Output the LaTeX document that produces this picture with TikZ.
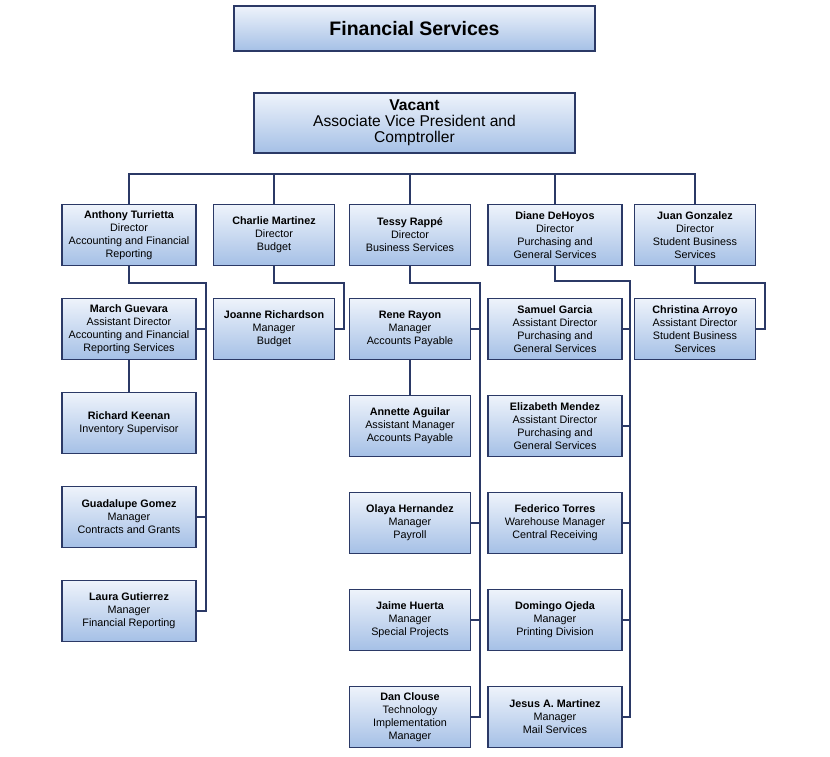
\documentclass[tikz,border=0pt]{standalone}
\usepackage{fontspec}
\setmainfont{Liberation Sans}
\usetikzlibrary{calc}
\definecolor{navy}{HTML}{2B3966}
\definecolor{boxtop}{HTML}{EEF3FB}
\definecolor{boxbot}{HTML}{A5C0E6}
\begin{document}
\begin{tikzpicture}[node distance={94pt},
        main/.style = {draw=navy, line width=1.8pt, rectangle, top color=boxtop, bottom color=boxbot, minimum width=121pt, minimum height=61pt, inner sep=2pt, align=center, font=\fontsize{10.8}{13}\selectfont},
        wide/.style = {main, minimum width=134pt},
        head/.style = {main, font=\fontsize{15.6}{16}\selectfont},
        wire/.style = {draw=navy, line width=2pt}]
        \fill[white] (0,0) rectangle (830pt,-756pt);
        \node[head, minimum width=361pt, minimum height=45pt, font=\fontsize{19.5}{20}\selectfont\bfseries] (1) at (414.5pt,-28.5pt) {Financial Services};
        \node[head, minimum width=321pt, minimum height=60pt] (2) [below of=1, node distance=94.5pt] {\textbf{Vacant}\\Associate Vice President and\\Comptroller};
        \node[main] (5) [below of=2, node distance=112pt, xshift=-4.5pt] {\textbf{Tessy Rappé}\\Director\\Business Services};
        \node[main] (4) [left of=5, node distance=136pt] {\textbf{Charlie Martinez}\\Director\\Budget};
        \node[wide] (3) [left of=4, node distance=145pt] {\textbf{Anthony Turrietta}\\Director\\Accounting and Financial\\Reporting};
        \node[wide] (6) [right of=5, node distance=145pt] {\textbf{Diane DeHoyos}\\Director\\Purchasing and\\General Services};
        \node[main] (7) [right of=6, node distance=140pt] {\textbf{Juan Gonzalez}\\Director\\Student Business\\Services};
        \node[wide] (8) [below of=3] {\textbf{March Guevara}\\Assistant Director\\Accounting and Financial\\Reporting Services};
        \node[wide] (9) [below of=8] {\textbf{Richard Keenan}\\Inventory Supervisor};
        \node[wide] (10) [below of=9] {\textbf{Guadalupe Gomez}\\Manager\\Contracts and Grants};
        \node[wide] (11) [below of=10] {\textbf{Laura Gutierrez}\\Manager\\Financial Reporting};
        \node[main] (12) [below of=4] {\textbf{Joanne Richardson}\\Manager\\Budget};
        \node[main] (13) [below of=5] {\textbf{Rene Rayon}\\Manager\\Accounts Payable};
        \node[main] (14) [below of=13, node distance=97pt] {\textbf{Annette Aguilar}\\Assistant Manager\\Accounts Payable};
        \node[main] (15) [below of=14, node distance=97pt] {\textbf{Olaya Hernandez}\\Manager\\Payroll};
        \node[main] (16) [below of=15, node distance=97pt] {\textbf{Jaime Huerta}\\Manager\\Special Projects};
        \node[main] (17) [below of=16, node distance=97pt] {\textbf{Dan Clouse}\\Technology\\Implementation\\Manager};
        \node[wide] (18) [below of=6] {\textbf{Samuel Garcia}\\Assistant Director\\Purchasing and\\General Services};
        \node[wide] (19) [below of=18, node distance=97pt] {\textbf{Elizabeth Mendez}\\Assistant Director\\Purchasing and\\General Services};
        \node[wide] (20) [below of=19, node distance=97pt] {\textbf{Federico Torres}\\Warehouse Manager\\Central Receiving};
        \node[wide] (21) [below of=20, node distance=97pt] {\textbf{Domingo Ojeda}\\Manager\\Printing Division};
        \node[wide] (22) [below of=21, node distance=97pt] {\textbf{Jesus A. Martinez}\\Manager\\Mail Services};
        \node[main] (23) [below of=7] {\textbf{Christina Arroyo}\\Assistant Director\\Student Business\\Services};
        \coordinate (bus) at ($(2.south)+(0,-20pt)$);
        \draw[wire] (3.north) |- (bus) -| (7.north);
        \foreach \n in {4,5,6}
            \draw[wire] (\n.north) -- (\n.north |- bus);
        \draw[wire] (3.south) -- ++(0,-17pt) -| ($(11.east)+(9pt,0)$) -- (11.east);
        \foreach \n in {8,10}
            \draw[wire] (\n.east) -- ++(9pt,0);
        \draw[wire] (8) -- (9);
        \draw[wire] (4.south) -- ++(0,-17pt) -| ($(12.east)+(9pt,0)$) -- (12.east);
        \draw[wire] (5.south) -- ++(0,-17pt) -| ($(17.east)+(9pt,0)$) -- (17.east);
        \foreach \n in {13,15,16}
            \draw[wire] (\n.east) -- ++(9pt,0);
        \draw[wire] (13) -- (14);
        \draw[wire] (6.south) -- ++(0,-15pt) -| ($(22.east)+(7pt,0)$) -- (22.east);
        \foreach \n in {18,...,21}
            \draw[wire] (\n.east) -- ++(7pt,0);
        \draw[wire] (7.south) -- ++(0,-17pt) -| ($(23.east)+(9pt,0)$) -- (23.east);
    \end{tikzpicture}
\end{document}
